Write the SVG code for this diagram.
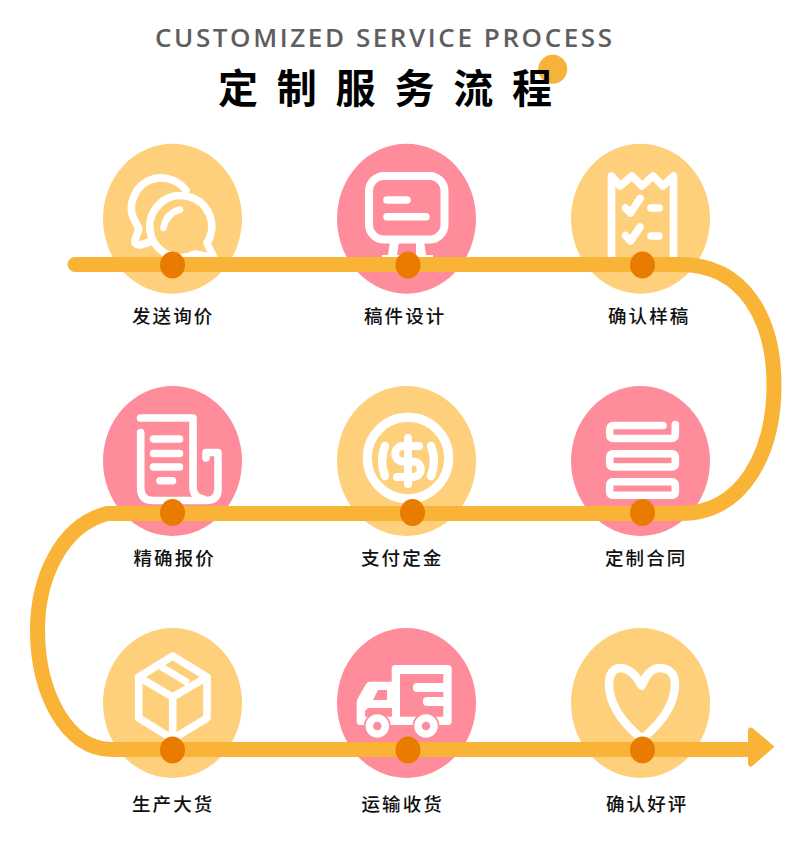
<svg xmlns="http://www.w3.org/2000/svg" width="800" height="849" viewBox="0 0 800 849">
<style>
.peach{fill:#FFD07B}.pink{fill:#FF8C9A}
.ic{fill:none;stroke:#FFFFFF;stroke-width:7.6;stroke-linecap:round;stroke-linejoin:round}
.sq{stroke-linecap:butt;stroke-linejoin:miter}
.wf{fill:#FFFFFF}.pf{fill:#FF8C9A}
.dot{fill:#E87B00}
.lb{font-family:"Noto Sans CJK SC","Noto Sans",sans-serif;font-size:18.5px;font-weight:500;letter-spacing:2.1px;fill:#111111}
.flow{fill:none;stroke:#F9B336;stroke-width:15;stroke-linecap:round}
</style>
<rect width="800" height="849" fill="#FFFFFF"/>
<g id="title">
<circle cx="552.7" cy="69.3" r="14.5" fill="#F7B23B"/>
<text x="155" y="47" font-family="'Open Sans','Liberation Sans',sans-serif" font-size="26" font-weight="600" textLength="457" lengthAdjust="spacing" fill="#5E5E5E">CUSTOMIZED SERVICE PROCESS</text>
<text x="218" y="103" font-family="'Noto Sans CJK SC',sans-serif" font-size="40" font-weight="700" letter-spacing="18.8" fill="#000000">定制服务流程</text>
</g>
<g id="node-1">
<ellipse class="peach" cx="172.5" cy="218.7" rx="69.5" ry="75"/>
<path class="ic" d="M186,190C175,177 160,176 150,180C135,186 128,205 133,217L139,229L135,240Q134,245 140,245L153,241"/>
<path class="ic" d="M207,243A31,31 0 1 0 195,254L214,258Z"/>
<path class="ic" d="M163.5,228C165,218 171,212 180,209.5" style="stroke-width:6.500px"/>
<text class="lb" x="132" y="323">发送询价</text>
</g>
<g id="node-2">
<ellipse class="pink" cx="406.5" cy="218.7" rx="69.5" ry="75"/>
<rect class="ic" x="369" y="176" width="75.5" height="63.5" rx="15" style="stroke-width:8px"/>
<path class="ic" d="M387,200H407M387,216.7H426"/>
<path class="wf" d="M390,241L399,241L397,255L401,255V258H382V255H388ZM416,241L424,241L426,255L433,255V258H414V255H416Z"/>
<text class="lb" x="364" y="323">稿件设计</text>
</g>
<g id="node-3">
<ellipse class="peach" cx="640.5" cy="218.7" rx="69.5" ry="75"/>
<path class="ic" d="M611.5,260V176L620,186L632,176L642,186L653,176L663,186L673.5,176V260"/>
<path class="ic" d="M625.5,208L630.5,213L640,198.5M625.5,235.5L630.5,241L640,227M651,208H659M651,236H659"/>
<text class="lb" x="608" y="323">确认样稿</text>
</g>
<g id="node-4">
<ellipse class="pink" cx="172.5" cy="461" rx="69.5" ry="75"/>
<path class="ic" d="M140.5,418H193V487Q193,497 203,499M140.7,432.5V488Q140.7,500.5 153,500.5H206Q218,500.5 218,489V452.5H206V458"/>
<path class="ic" d="M153.5,439H179.5M153.5,453.5H179.5M153.5,467H179.5M160,480.7H172.5"/>
<text class="lb" x="133.500" y="565">精确报价</text>
</g>
<g id="node-5">
<ellipse class="peach" cx="406.500" cy="461" rx="69.500" ry="75"/>
<circle class="ic" cx="408" cy="458" r="40.700" style="stroke-width:9px"/>
<path class="ic" style="stroke-width:8.500px" d="M385,446Q379,461 385,476M431,446Q437,461 431,476"/>
<path class="ic" style="stroke-width:8px" d="M408,438V484M419,446H403A7.700,7.700 0 0 0 403,461.500H413A7.700,7.700 0 0 1 413,477H397"/>
<text class="lb" x="361" y="565">支付定金</text>
</g>
<g id="node-6">
<ellipse class="pink" cx="640.500" cy="461" rx="69.500" ry="75"/>
<path class="ic" d="M663,425.500H614Q609.700,425.500 609.700,430V434Q609.700,438.500 614,438.500H671Q675.300,438.500 675.300,434V424.500"/>
<rect class="ic" x="609.700" y="453.700" width="65.600" height="13.300" rx="3"/>
<rect class="ic" x="609.700" y="481.700" width="65.600" height="13.600" rx="3"/>
<text class="lb" x="605" y="565">定制合同</text>
</g>
<g id="node-7">
<ellipse class="peach" cx="172.500" cy="703" rx="69.500" ry="75"/>
<path class="ic" d="M172.700,656L207,677V718L172.700,739L138.700,718V677ZM138.700,677L172.700,697L207,677M172.700,697V745"/>
<path class="ic sq" style="stroke-width:7px" d="M158.300,665L188.300,683"/>
<text class="lb" x="132" y="811">生产大货</text>
</g>
<g id="node-8">
<ellipse class="pink" cx="406.500" cy="703" rx="69.500" ry="75"/>
<path class="wf" d="M395,665H448Q451.700,665 451.700,669V721Q451.700,725 448,725H360Q356.700,725 356.700,721V703Q356.700,700 358,698L366,684Q367.500,681.700 370,681.700H391.700V669Q391.700,665 395,665Z"/>
<rect class="pf" x="400" y="674" width="43.300" height="42.700"/>
<rect class="wf" x="413" y="683" width="33" height="9" rx="4"/>
<rect class="wf" x="423" y="697" width="23" height="9" rx="4"/>
<path class="pf" d="M378,690H387V700H373Z"/>
<path class="pf" d="M368,708H392V716.700H365V711Z"/>
<circle class="pf" cx="377.300" cy="726" r="13.500"/>
<circle class="pf" cx="426" cy="726" r="13.500"/>
<circle class="ic" cx="377.300" cy="726" r="8" style="stroke-width:7.500px"/>
<circle class="ic" cx="426" cy="726" r="8" style="stroke-width:7.500px"/>
<text class="lb" x="361.500" y="811">运输收货</text>
</g>
<g id="node-9">
<ellipse class="peach" cx="640.500" cy="703" rx="69.500" ry="75"/>
<path class="ic" style="stroke-width:8.500px" d="M641.700,685.700C636,675 628,668 620,668C613,668 609,675 609,684C609,706 625,725 642,739C659,725 675,706 675,684C675,675 670,668 660,668C652,668 646,675 643,683"/>
<text class="lb" x="606" y="811">确认好评</text>
</g>
<g id="connectors">
<path class="flow" d="M75,264.500H680C745,264.500 774,320 774,385C774,450 745,513.500 680,513.500H107C60,526 37.500,580 37.500,630C37.500,690 65,749.500 112,749.500H752"/>
<path d="M749,731Q749,727.500 752,729L773,746.700L752,765Q749,767 749,763Z" fill="#F9B336" stroke="#F9B336" stroke-width="2" stroke-linejoin="round"/>
</g>
<g id="dots">
<ellipse class="dot" cx="172.500" cy="265" rx="12.500" ry="13.500"/>
<ellipse class="dot" cx="408" cy="265" rx="12.500" ry="13.500"/>
<ellipse class="dot" cx="642.500" cy="265" rx="12.500" ry="13.500"/>
<ellipse class="dot" cx="172.500" cy="512.500" rx="12.500" ry="13.500"/>
<ellipse class="dot" cx="412.500" cy="512.500" rx="12.500" ry="13.500"/>
<ellipse class="dot" cx="642.500" cy="512.500" rx="12.500" ry="13.500"/>
<ellipse class="dot" cx="172.500" cy="750" rx="12.500" ry="13.500"/>
<ellipse class="dot" cx="408" cy="750" rx="12.500" ry="13.500"/>
<ellipse class="dot" cx="642.500" cy="750" rx="12.500" ry="13.500"/>
</g>
</svg>
